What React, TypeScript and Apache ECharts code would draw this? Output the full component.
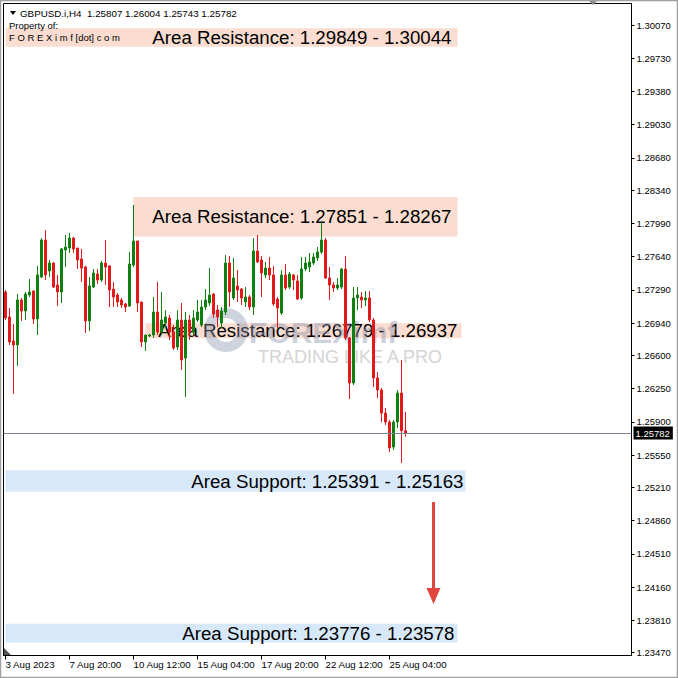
import React, { useEffect, useRef } from "react";
import * as echarts from "echarts";

const SYMBOL = "GBPUSD.i,H4";

// H4 bars, oldest first
const opens = [
  1.27267, 1.27004, 1.26751, 1.26709, 1.27183, 1.27067, 1.27235, 1.27277, 1.26983, 1.27425,
  1.27814, 1.27488, 1.27572, 1.27341, 1.27267, 1.27709, 1.27730, 1.27835, 1.27730, 1.27614,
  1.27530, 1.26962, 1.27319, 1.27456, 1.27393, 1.27572, 1.27541, 1.27298, 1.27235, 1.27183,
  1.27141, 1.27119, 1.27551, 1.27804, 1.27162, 1.26741, 1.26804, 1.26814, 1.27056, 1.26846,
  1.26941, 1.26993, 1.26846, 1.26688, 1.26972, 1.26572, 1.26972, 1.26846, 1.26972, 1.26919,
  1.27109, 1.27151, 1.27246, 1.27077, 1.26941, 1.27056, 1.27572, 1.27204, 1.27330, 1.27298,
  1.27162, 1.27214, 1.27109, 1.27698, 1.27604, 1.27446, 1.27519, 1.27446, 1.27193, 1.27046,
  1.27446, 1.27319, 1.27446, 1.27383, 1.27204, 1.27509, 1.27530, 1.27572, 1.27625, 1.27688,
  1.27814, 1.27414, 1.27341, 1.27309, 1.27319, 1.27509, 1.26783, 1.26309, 1.27204, 1.27214,
  1.27183, 1.27204, 1.26972, 1.26362, 1.26235, 1.25993, 1.25898, 1.25635, 1.25898, 1.26204,
  1.25807,
];
const closes = [
  1.26993, 1.26741, 1.26709, 1.27183, 1.27067, 1.27246, 1.27267, 1.26983, 1.27446, 1.27814,
  1.27446, 1.27572, 1.27319, 1.27267, 1.27720, 1.27741, 1.27835, 1.27720, 1.27604, 1.27519,
  1.26962, 1.27330, 1.27467, 1.27393, 1.27572, 1.27530, 1.27288, 1.27214, 1.27162, 1.27130,
  1.27109, 1.27562, 1.27804, 1.27151, 1.26741, 1.26814, 1.26814, 1.27056, 1.26846, 1.26972,
  1.27004, 1.26846, 1.26677, 1.26972, 1.26551, 1.26972, 1.26846, 1.26993, 1.27056, 1.27109,
  1.27183, 1.27235, 1.27035, 1.27004, 1.27067, 1.27572, 1.27267, 1.27414, 1.27288, 1.27204,
  1.27214, 1.27109, 1.27698, 1.27583, 1.27467, 1.27519, 1.27446, 1.27141, 1.27098, 1.27446,
  1.27309, 1.27456, 1.27393, 1.27193, 1.27509, 1.27572, 1.27583, 1.27635, 1.27688, 1.27814,
  1.27414, 1.27341, 1.27309, 1.27341, 1.27509, 1.26783, 1.26309, 1.27204, 1.27235, 1.27183,
  1.27204, 1.26972, 1.26362, 1.26235, 1.25993, 1.25898, 1.25625, 1.25898, 1.26204, 1.25807,
  1.25782,
];
const lows = [
  1.26972, 1.26709, 1.26193, 1.26488, 1.26962, 1.26972, 1.27214, 1.26930, 1.26814, 1.27414,
  1.27393, 1.27425, 1.27309, 1.27119, 1.27151, 1.27530, 1.27677, 1.27677, 1.27509, 1.27372,
  1.26835, 1.26856, 1.27309, 1.27351, 1.27372, 1.27341, 1.27109, 1.27109, 1.27109, 1.27098,
  1.27056, 1.27109, 1.27530, 1.27056, 1.26688, 1.26646, 1.26793, 1.26783, 1.26814, 1.26814,
  1.26888, 1.26762, 1.26656, 1.26656, 1.26446, 1.26162, 1.26762, 1.26814, 1.26951, 1.26898,
  1.27077, 1.27119, 1.26993, 1.26898, 1.26888, 1.27025, 1.27109, 1.27183, 1.27162, 1.27130,
  1.27109, 1.27077, 1.27025, 1.27572, 1.27214, 1.27414, 1.27393, 1.27119, 1.26888, 1.27025,
  1.27288, 1.27298, 1.27288, 1.27183, 1.27183, 1.27488, 1.27477, 1.27551, 1.27593, 1.27667,
  1.27404, 1.27183, 1.27267, 1.27288, 1.27298, 1.26762, 1.26141, 1.26288, 1.27077, 1.27098,
  1.27119, 1.26951, 1.26267, 1.26151, 1.25898, 1.25867, 1.25583, 1.25604, 1.25835, 1.25467,
  1.25743,
];
const highs = [
  1.27288, 1.27098, 1.26930, 1.27246, 1.27204, 1.27267, 1.27404, 1.27288, 1.27541, 1.27835,
  1.27919, 1.27604, 1.27583, 1.27446, 1.27730, 1.27867, 1.27888, 1.27846, 1.27730, 1.27720,
  1.27541, 1.27425, 1.27509, 1.27509, 1.27593, 1.27814, 1.27551, 1.27372, 1.27256, 1.27204,
  1.27151, 1.27688, 1.28183, 1.27804, 1.27162, 1.26814, 1.26825, 1.27214, 1.27372, 1.27267,
  1.27077, 1.27025, 1.26919, 1.27077, 1.27151, 1.27056, 1.27025, 1.27077, 1.27183, 1.27183,
  1.27298, 1.27519, 1.27256, 1.27130, 1.27109, 1.27656, 1.27646, 1.27625, 1.27498, 1.27309,
  1.27319, 1.27235, 1.27835, 1.27867, 1.27646, 1.27583, 1.27635, 1.27541, 1.27214, 1.27498,
  1.27562, 1.27477, 1.27456, 1.27446, 1.27635, 1.27635, 1.27677, 1.27677, 1.27741, 1.28004,
  1.27835, 1.27530, 1.27372, 1.27414, 1.27519, 1.27646, 1.26793, 1.27319, 1.27319, 1.27267,
  1.27277, 1.27277, 1.26993, 1.26425, 1.26256, 1.26046, 1.25919, 1.25919, 1.26235, 1.26551,
  1.26004,
];

// bar slots across the window (includes the empty shift area on the right)
const SLOT_COUNT = 157;
const TIME_LABELS = [
  "3 Aug 2023",
  "7 Aug 20:00",
  "10 Aug 12:00",
  "15 Aug 04:00",
  "17 Aug 20:00",
  "22 Aug 12:00",
  "25 Aug 04:00",
];
const TIME_LABEL_STEP = 16;

const PRICE_TICKS = [
  1.3007, 1.2973, 1.2938, 1.2903, 1.2868, 1.2834, 1.2799, 1.2764, 1.2729, 1.2694,
  1.266, 1.2625, 1.259, 1.2555, 1.2521, 1.2486, 1.2451, 1.2416, 1.2381, 1.2347,
];
const PRICE_MIN = 1.234405;
const PRICE_MAX = 1.303037;

// support / resistance zones
const zoneKind = ["Resistance", "Resistance", "Resistance", "Support", "Support"];
const zoneFrom = [1.29849, 1.27851, 1.26779, 1.25391, 1.23776];
const zoneTo = [1.30044, 1.28267, 1.26937, 1.25163, 1.23578];
const zoneStartBar = [-0.5, 32, 35, -0.5, -0.5];
const zoneEndBar = [113.25, 113.25, 114.25, 114.5, 113];
const zoneLabelGap = [6, 6, 4, 2, 3];

// projected move arrow
const arrowBar = 106.5;
const arrowFrom = 1.25056;
const arrowTo = 1.24067;

const FONT = "Liberation Sans";
const BULL = "#0F7F0F";
const BEAR = "#E3191B";
const RES_FILL = "#FADDD0";
const SUP_FILL = "#D7E8F8";

export default function App() {
  const ref = useRef<HTMLDivElement | null>(null);

  useEffect(() => {
    if (!ref.current) return;
    const chart = echarts.init(ref.current, undefined, { renderer: "svg" });

    const bars = opens.map((o, i) => [o, closes[i], lows[i], highs[i]]);
    const last = opens.length - 1;
    const lastClose = closes[last];
    const slots = Array.from({ length: SLOT_COUNT }, (_, i) => String(i));

    const zoneRects = zoneFrom.map((from, i) => [
      {
        xAxis: zoneStartBar[i],
        yAxis: from,
        itemStyle: { color: zoneKind[i] === "Support" ? SUP_FILL : RES_FILL },
      },
      { xAxis: zoneEndBar[i], yAxis: zoneTo[i] },
    ]);

    const zoneTexts = zoneFrom.map((from, i) => [
      {
        xAxis: zoneStartBar[i],
        yAxis: from,
        label: {
          show: true,
          position: "insideRight",
          distance: zoneLabelGap[i],
          formatter: `Area ${zoneKind[i]}: ${from.toFixed(5)} - ${zoneTo[i].toFixed(5)}`,
        },
      },
      { xAxis: zoneEndBar[i], yAxis: zoneTo[i] },
    ]);

    const header = `${SYMBOL}  ${opens[last].toFixed(5)} ${highs[last].toFixed(5)} ${lows[
      last
    ].toFixed(5)} ${closes[last].toFixed(5)}`;

    const showTimeLabel = (index: number) =>
      index % TIME_LABEL_STEP === 0 && index / TIME_LABEL_STEP < TIME_LABELS.length;

    const smallText = (text: string, x: number, y: number, size = 9.5) => ({
      type: "text",
      x,
      y,
      z: 100,
      silent: true,
      style: { text, fill: "#000", font: `${size}px "${FONT}"`, verticalAlign: "middle" },
    });

    chart.setOption({
      animation: false,
      backgroundColor: "#ffffff",
      textStyle: { fontFamily: FONT },
      grid: {
        left: 3.5,
        right: 46.5,
        top: 3.5,
        bottom: 22.5,
        show: true,
        borderColor: "#000",
        borderWidth: 1,
        backgroundColor: "#ffffff",
      },
      xAxis: {
        type: "category",
        data: slots,
        boundaryGap: true,
        axisLine: { show: true, lineStyle: { color: "#000", width: 1 } },
        axisTick: {
          show: true,
          alignWithLabel: true,
          interval: (index: number) => showTimeLabel(index),
          length: 4,
          lineStyle: { color: "#000" },
        },
        axisLabel: {
          show: true,
          interval: (index: number) => showTimeLabel(index),
          formatter: (_v: string, index: number) =>
            TIME_LABELS[Math.floor(index / TIME_LABEL_STEP)] ?? "",
          align: "left",
          margin: 4,
          color: "#000",
          fontSize: 9.7,
          fontFamily: FONT,
        },
        splitLine: { show: false },
      },
      yAxis: {
        type: "value",
        position: "right",
        min: PRICE_MIN,
        max: PRICE_MAX,
        scale: true,
        axisLine: { show: true, lineStyle: { color: "#000", width: 1 } },
        axisTick: {
          show: true,
          customValues: PRICE_TICKS,
          length: 3,
          lineStyle: { color: "#000" },
        },
        axisLabel: {
          show: true,
          customValues: PRICE_TICKS,
          formatter: (v: number) => v.toFixed(5),
          margin: 5,
          color: "#000",
          fontSize: 9.5,
          fontFamily: FONT,
        },
        splitLine: { show: false },
      },
      series: [
        {
          name: "zones",
          type: "line",
          data: [],
          z: 1,
          silent: true,
          markArea: {
            silent: true,
            label: { show: false },
            data: zoneRects,
          },
        },
        {
          name: SYMBOL,
          type: "candlestick",
          data: bars,
          z: 3,
          silent: true,
          barWidth: 2,
          itemStyle: {
            color: BULL,
            color0: BEAR,
            borderColor: BULL,
            borderColor0: BEAR,
            borderWidth: 1,
          },
        },
        {
          name: "bid",
          type: "line",
          data: [],
          z: 2,
          silent: true,
          markLine: {
            silent: true,
            precision: 5,
            symbol: ["none", "none"],
            lineStyle: { color: "#7D8794", width: 1, type: "solid" },
            label: {
              show: true,
              position: "end",
              distance: 2,
              formatter: () => lastClose.toFixed(5),
              backgroundColor: "#000",
              color: "#fff",
              fontSize: 9.5,
              fontFamily: FONT,
              padding: [2, 3, 1, 2],
            },
            data: [{ yAxis: lastClose }],
          },
        },
        {
          name: "notes",
          type: "line",
          data: [],
          z: 4,
          silent: true,
          markArea: {
            silent: true,
            itemStyle: { color: "rgba(0,0,0,0)" },
            label: { color: "#000", fontSize: 18.7, fontFamily: FONT },
            data: zoneTexts,
          },
          markLine: {
            silent: true,
            precision: 5,
            label: { show: false },
            lineStyle: { color: "#E0453F", width: 3, type: "solid" },
            data: [
              [
                { xAxis: arrowBar, yAxis: arrowFrom, symbol: "none" },
                { xAxis: arrowBar, yAxis: arrowTo, symbol: "triangle", symbolSize: [14, 16] },
              ],
            ],
          },
        },
      ],
      graphic: [
        {
          type: "ring",
          z: 2,
          silent: true,
          shape: { cx: 226, cy: 330, r: 22, r0: 12 },
          style: { fill: "rgba(140,150,175,0.42)" },
        },
        {
          type: "text",
          z: 2,
          silent: true,
          x: 249,
          y: 332,
          style: {
            text: "FOREXimf",
            fill: "rgba(140,150,175,0.45)",
            font: `bold 30px "${FONT}"`,
            verticalAlign: "middle",
          },
        },
        {
          type: "text",
          z: 2,
          silent: true,
          x: 258,
          y: 357,
          style: {
            text: "TRADING LIKE A PRO",
            fill: "#d4d4d4",
            font: `18px "${FONT}"`,
            verticalAlign: "middle",
          },
        },
        {
          type: "polygon",
          z: 100,
          silent: true,
          shape: { points: [[10, 11], [16, 11], [13, 15]] },
          style: { fill: "#000" },
        },
        smallText(header, 20, 13, 9.8),
        smallText("Property of:", 9, 25.5),
        smallText("F O R E X i m f [dot] c o m", 9, 37),
        {
          type: "polygon",
          z: 100,
          silent: true,
          shape: { points: [[588, 0], [598, 0], [593, 5]] },
          style: { fill: "#8a8a8a" },
        },
        {
          type: "polygon",
          z: 100,
          silent: true,
          shape: { points: [[4, 648], [4, 655], [11, 655]] },
          style: { fill: "#555" },
        },
        {
          type: "rect",
          z: 100,
          silent: true,
          shape: { x: 0.5, y: 0.5, width: 677, height: 677 },
          style: { fill: "none", stroke: "#a0a0a0", lineWidth: 1.5 },
        },
      ],
    });

    return () => chart.dispose();
  }, []);

  return (
    <div
      ref={ref}
      style={{ position: "fixed", left: 0, top: 0, width: 678, height: 678, background: "#fff" }}
    />
  );
}
